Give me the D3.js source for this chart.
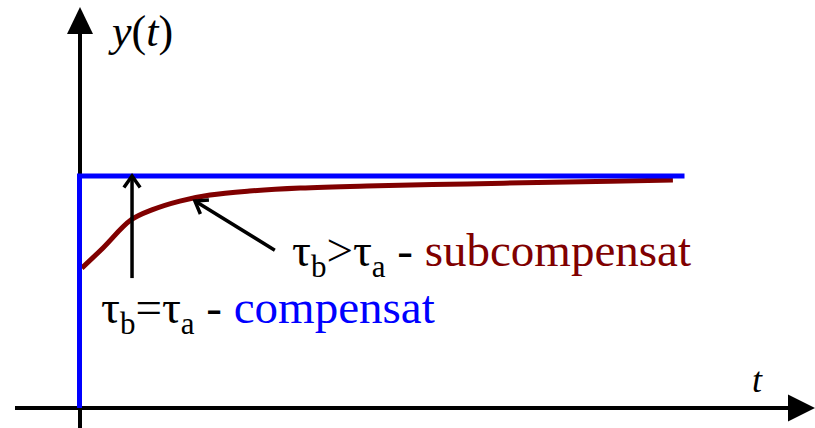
<!DOCTYPE html>
<html>
<head>
<meta charset="utf-8">
<script src="https://cdn.jsdelivr.net/npm/d3@7"></script>
</head>
<body style="margin:0">
<svg id="s" width="815" height="428"></svg>
<script>
// Step response samples
const idealT = [0, 0, 10];          // ideal compensation (τb = τa)
const idealY = [0, 1, 1];
const underT = [0.03, 0.38, 0.84, 1.2, 1.65, 2.15, 2.8, 3.64, 4.74, 6.4, 8.05, 9.8];   // under-compensated (τb > τa)
const underY = [0.603, 0.690, 0.810, 0.855, 0.892, 0.918, 0.935, 0.948, 0.957, 0.966, 0.974, 0.983];

// Annotation arrows, in data coordinates [t, y]
const arrowCompFrom = [0.86, 0.56];
const arrowCompTo   = [0.86, 1.0];
const arrowSubFrom  = [3.22, 0.68];
const arrowSubTo    = [1.90, 0.892];

const axisTitles = ["y(t)", "t"];

const face = '"Tinos"';
const svg = d3.select("#s");
const x = d3.scaleLinear().domain([0, 10]).range([80, 685]);
const y = d3.scaleLinear().domain([0, 1]).range([408, 176]);

const blue = "#0000ff";
const dark = "#800000";

// Axes with arrowheads
const x0 = x(0), y0 = y(0);
svg.append("line").attr("x1", 15).attr("x2", 790).attr("y1", y0).attr("y2", y0)
  .attr("stroke", "#000").attr("stroke-width", 4);
svg.append("path").attr("d", `M815,${y0} L788,${y0 - 13.5} L788,${y0 + 13.5} Z`).attr("fill", "#000");
svg.append("line").attr("x1", x0).attr("x2", x0).attr("y1", 428).attr("y2", 32)
  .attr("stroke", "#000").attr("stroke-width", 4);
svg.append("path").attr("d", `M${x0},7 L${x0 - 13},34 L${x0 + 13},34 Z`).attr("fill", "#000");

// Axis titles
const yt = svg.append("text").attr("x", 112).attr("y", 46).attr("font-size", 44)
  .style("font-family", face);
yt.append("tspan").style("font-style", "italic").text("y");
yt.append("tspan").text("(");
yt.append("tspan").style("font-style", "italic").text("t");
yt.append("tspan").text(")");
svg.append("text").attr("x", 752).attr("y", 392).attr("font-size", 36)
  .style("font-family", face).style("font-style", "italic").text(axisTitles[1]);

// Curves
const line = d3.line().x(d => x(d[0])).y(d => y(d[1]));
svg.append("path")
  .attr("d", line.curve(d3.curveCatmullRom.alpha(0.5))(d3.zip(underT, underY)))
  .attr("fill", "none").attr("stroke", dark).attr("stroke-width", 5);
svg.append("path")
  .attr("d", d3.line().x(d => x(d[0]) - 0.5).y(d => y(d[1]))(d3.zip(idealT, idealY)))
  .attr("fill", "none").attr("stroke", blue).attr("stroke-width", 5)
  .attr("stroke-linejoin", "miter");

// Open-head arrows
function arrow(from, to) {
  const fx = x(from[0]), fy = y(from[1]), tx = x(to[0]), ty = y(to[1]);
  const ang = Math.atan2(ty - fy, tx - fx);
  const len = 14, spread = 0.62;
  const a1 = [tx - len * Math.cos(ang - spread), ty - len * Math.sin(ang - spread)];
  const a2 = [tx - len * Math.cos(ang + spread), ty - len * Math.sin(ang + spread)];
  svg.append("line").attr("x1", fx).attr("y1", fy).attr("x2", tx).attr("y2", ty)
    .attr("stroke", "#000").attr("stroke-width", 3.5);
  svg.append("path").attr("d", `M${a1[0]},${a1[1]} L${tx},${ty} L${a2[0]},${a2[1]}`)
    .attr("fill", "none").attr("stroke", "#000").attr("stroke-width", 3.5)
    .attr("stroke-linejoin", "miter");
}
arrow(arrowCompFrom, arrowCompTo);
arrow(arrowSubFrom, arrowSubTo);

// Labels with subscripted time constants
function label(px, py, rel, word, color) {
  const t = svg.append("text").attr("x", px).attr("y", py).attr("font-size", 47)
    .style("font-family", face);
  t.append("tspan").text("τ");
  t.append("tspan").attr("font-size", 31).attr("dy", 11).text("b");
  t.append("tspan").attr("dy", -11).text(rel);
  t.append("tspan").text("τ");
  t.append("tspan").attr("font-size", 31).attr("dy", 11).text("a");
  t.append("tspan").attr("dy", -11).text(" - ");
  t.append("tspan").attr("fill", color).text(word);
}
label(292, 266, ">", "subcompensat", dark);
label(101, 323, "=", "compensat", blue);
</script>
</body>
</html>
